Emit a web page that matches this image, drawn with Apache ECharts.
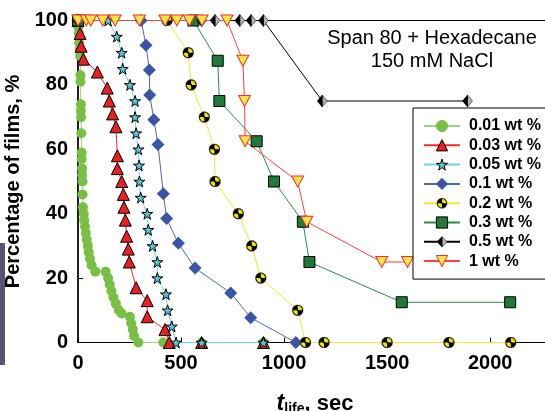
<!DOCTYPE html>
<html>
<head>
<meta charset="utf-8">
<script src="https://cdn.jsdelivr.net/npm/echarts@6/dist/echarts.min.js"></script>
<style>
  html, body { margin: 0; padding: 0; background: #fff; }
  #chart { width: 545px; height: 411px; }
</style>
</head>
<body>
<div id="chart"></div>
<script>
// lifetime (sec), percentage of films still alive
const wt001 = [[0,100],[2,98],[4,96],[6,93],[8,91],[10,89],[12,83],[12,81],[14,74],[14,72],[15,70],[16,65],[18,59],[18,57],[20,54],[20,52],[22,50],[22,46],[24,42],[28,40],[30,38],[34,36],[38,34],[42,32],[48,30],[52,28],[58,26],[66,24],[84,22],[134,22],[146,20],[154,18],[162,16],[172,14],[184,12],[198,10],[212,9],[252,8],[258,6],[266,4],[272,2],[293,0],[414,0],[600,0],[900,0]];
const wt003 = [[0,100],[10,96],[15,92],[26,88],[94,84],[142,79],[152,75],[168,71],[184,67],[191,58],[191,54],[212,50],[220,46],[223,42],[230,38],[236,33],[244,29],[249,25],[282,17],[336,13],[336,8],[422,4],[443,0],[600,0],[900,0]];
const wt005 = [[0,100],[146,100],[188,95],[212,90],[217,85],[252,80],[277,75],[277,70],[282,65],[293,60],[296,55],[298,50],[304,45],[336,40],[341,35],[362,30],[385,25],[385,20],[427,15],[435,10],[455,5],[476,0],[600,0],[900,0]];
const wt01 = [[0,100],[306,100],[330,92.3],[346,84.6],[348,76.9],[368,69.2],[388,61.5],[414,46.2],[430,38.5],[487,30.8],[568,23.1],[741,15.4],[838,7.7],[1057,0]];
const wt02 = [[0,100],[432,100],[535,90],[549,80],[613,70],[662,60],[665,50],[778,40],[843,30],[887,20],[1066,10],[1104,0],[1194,0],[1500,0],[1800,0],[2100,0]];
const wt03 = [[0,100],[560,100],[678,87.5],[686,75],[867,62.5],[951,50],[1091,37.5],[1123,25],[1571,12.5],[2097,12.5]];
const wt05 = [[0,100],[600,100],[665,100],[785,100],[840,100],[900,100],[1185,75],[1890,75]];
const wt1 = [[0,100],[40,100],[62,100],[120,100],[180,100],[298,100],[422,100],[480,100],[540,100],[602,100],[723,100],[800,87.5],[808,75],[811,62.5],[1066,50],[1110,37.5],[1474,25],[1599,25]];

const names = ["0.01 wt %", "0.03 wt %", "0.05 wt %", "0.1 wt %", "0.2 wt %", "0.3 wt %", "0.5 wt %", "1 wt %"];
const xTicks = [0, 500, 1000, 1500, 2000];
const yTicks = [0, 20, 40, 60, 80, 100];

const font = "'Liberation Sans', Arial, sans-serif";

const svgUri = (svg) => "image://data:image/svg+xml;charset=utf-8," + encodeURIComponent(svg);
const radSymbol = svgUri(
  "<svg xmlns='http://www.w3.org/2000/svg' width='40' height='40' viewBox='0 0 20 20'>" +
  "<circle cx='10' cy='10' r='9.3' fill='#000' stroke='#888' stroke-width='0.8'/>" +
  "<path d='M10,10 L10,2.5 A7.5,7.5 0 0 1 17.5,10 Z' fill='#f2e600'/>" +
  "<path d='M10,10 L10,17.5 A7.5,7.5 0 0 1 2.5,10 Z' fill='#f2e600'/>" +
  "<circle cx='10' cy='10' r='1.6' fill='#000'/></svg>"
);
const halfDiamond = svgUri(
  "<svg xmlns='http://www.w3.org/2000/svg' width='40' height='48' viewBox='0 0 20 24'>" +
  "<path d='M10,1 L19,12 L10,23 Z' fill='#b4b4b4' stroke='#000' stroke-width='1'/>" +
  "<path d='M10,1 L1,12 L10,23 Z' fill='#000' stroke='#000' stroke-width='1'/></svg>"
);
const star = "path://M50,0 L61,35 L98,35 L68,57 L79,91 L50,70 L21,91 L32,57 L2,35 L39,35 Z";
const downTri = "path://M0,0 L20,0 L10,18 Z";

function mk(name, data, lineColor, symbol, size, fill, border) {
  return {
    name: name,
    type: "line",
    data: data,
    symbol: symbol,
    symbolSize: size,
    showAllSymbol: true,
    lineStyle: { color: lineColor, width: 1 },
    itemStyle: { color: fill, borderColor: border || fill, borderWidth: border ? 1 : 0 },
    emphasis: { disabled: true },
  };
}

const chart = echarts.init(document.getElementById("chart"));

const option = {
  animation: false,
  textStyle: { fontFamily: font },
  grid: {
    left: 78,
    right: -7,
    top: 20.5,
    bottom: 68.5,
    outerBoundsMode: "none",
    containLabel: false,
    show: true,
    borderColor: "#000",
    borderWidth: 1,
    backgroundColor: "#fff",
  },
  legend: {
    orient: "vertical",
    left: 413,
    top: 108,
    padding: [10, 60, 10, 10],
    backgroundColor: "#fff",
    borderColor: "#000",
    borderWidth: 1,
    itemWidth: 36,
    itemHeight: 14,
    itemGap: 3.3,
    itemStyle: { borderWidth: 1 },
    textStyle: { fontSize: 16, fontWeight: "bold", color: "#000", fontFamily: font, lineHeight: 16, padding: [0, 0, 0, 4] },
    data: names,
  },
  xAxis: {
    type: "value",
    min: 0,
    max: 2300,
    interval: 500,
    splitLine: { show: false },
    axisLine: { lineStyle: { color: "#000", width: 1 } },
    axisTick: { inside: true, length: 5, lineStyle: { color: "#000" } },
    axisLabel: {
      fontSize: 20, fontWeight: "bold", color: "#000", margin: 11, fontFamily: font,
      showMaxLabel: false,
      formatter: (v) => (xTicks.includes(v) ? String(v) : ""),
    },
    name: "{t|t}{s|life}{n|, sec}",
    nameLocation: "middle",
    nameGap: 48,
    nameTextStyle: {
      rich: {
        t: { fontSize: 23, fontWeight: "bold", fontStyle: "italic", color: "#000", fontFamily: font },
        s: { fontSize: 14, fontWeight: "bold", color: "#000", fontFamily: font, padding: [12, 0, 0, 0] },
        n: { fontSize: 22, fontWeight: "bold", color: "#000", fontFamily: font },
      },
    },
  },
  yAxis: {
    type: "value",
    min: 0,
    max: 100,
    interval: 20,
    splitLine: { show: false },
    axisLine: { show: true, lineStyle: { color: "#000", width: 1.5 } },
    axisTick: { show: true, inside: true, length: 5, lineStyle: { color: "#000" } },
    axisLabel: {
      fontSize: 20, fontWeight: "bold", color: "#000", margin: 10, fontFamily: font,
      formatter: (v) => (yTicks.includes(v) ? String(v) : ""),
    },
    name: "Percentage of films, %",
    nameLocation: "middle",
    nameRotate: 90,
    nameGap: 49,
    nameTextStyle: { fontSize: 20, fontWeight: "bold", color: "#000", fontFamily: font },
  },
  graphic: [
    {
      type: "rect",
      left: 0,
      top: 243,
      shape: { width: 5, height: 122 },
      style: { fill: "#5a5470" },
      z: 100,
    },
    {
      type: "text",
      x: 432,
      y: 27,
      style: {
        text: "Span 80 + Hexadecane\n150 mM NaCl",
        align: "center",
        fontSize: 20,
        lineHeight: 23,
        fontFamily: font,
        fill: "#000",
      },
      z: 100,
    },
  ],
  series: [
    mk(names[0], wt001, "#9fd27c", "circle", 10, "#78c043"),
    mk(names[1], wt003, "#ee2a2a", "triangle", 12, "#e82020", "#000"),
    mk(names[2], wt005, "#70d2e0", star, 11, "#5bc6d8", "#000"),
    mk(names[3], wt01, "#4a66b5", "diamond", 13, "#3a55a8"),
    mk(names[4], wt02, "#f0e830", radSymbol, 12, "#000"),
    mk(names[5], wt03, "#2a8a48", "rect", 11, "#1f7a3a", "#000"),
    mk(names[6], wt05, "#000", halfDiamond, [11, 13], "#000"),
    mk(names[7], wt1, "#f04545", downTri, [12, 11], "#f5e642", "#f03030"),
  ],
};

chart.setOption(option);
</script>
</body>
</html>
